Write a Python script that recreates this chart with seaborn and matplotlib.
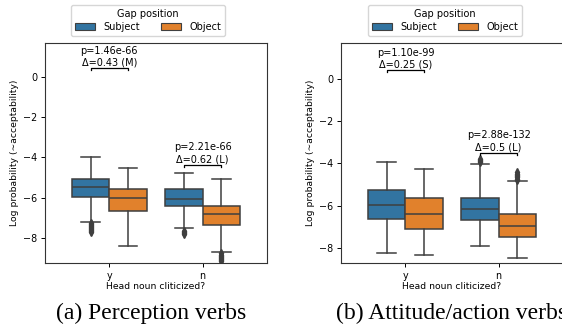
import numpy as np
import matplotlib
matplotlib.use("Agg")
import matplotlib.pyplot as plt
from matplotlib.patches import Patch
import seaborn as sns

# categories
clitic = ["y", "n"]
gap = ["Subject", "Object"]

# box summaries, order: y-Subject, y-Object, n-Subject, n-Object
# (a) perception verbs
a_med = [-5.48, -6.02, -6.04, -6.81]
a_q1 = [-5.94, -6.67, -6.40, -7.36]
a_q3 = [-5.05, -5.57, -5.57, -6.40]
a_lo = [-7.19, -8.36, -7.49, -8.66]
a_hi = [-4.00, -4.51, -4.75, -5.08]
a_fliers = [[-7.26, -7.31, -7.36, -7.41, -7.46, -7.51, -7.56, -7.61, -7.66, -7.70],
            [],
            [-7.62, -7.67, -7.72, -7.77],
            [-8.75, -8.81, -8.87, -8.93, -8.99, -9.05, -9.10, -9.15]]
a_pvals = ["p=1.46e-66", "p=2.21e-66"]
a_delta = ["Δ=0.43 (M)", "Δ=0.62 (L)"]
a_bracket = [0.42, -4.37]

# (b) attitude/action verbs
b_med = [-5.97, -6.40, -6.15, -6.95]
b_q1 = [-6.62, -7.11, -6.67, -7.48]
b_q3 = [-5.26, -5.64, -5.63, -6.39]
b_lo = [-8.21, -8.33, -7.89, -8.46]
b_hi = [-3.93, -4.25, -4.03, -4.82]
b_fliers = [[], [],
            [-3.80, -3.85, -3.90, -3.95],
            [-4.42, -4.48, -4.54, -4.60, -4.66, -4.72, -4.77]]
b_pvals = ["p=1.10e-99", "p=2.88e-132"]
b_delta = ["Δ=0.25 (S)", "Δ=0.5 (L)"]
b_bracket = [0.39, -3.50]

pal = [sns.desaturate(c, 0.75) for c in sns.color_palette("tab10", 2)]
gray = "#3f3f3f"

fig = plt.figure(figsize=(5.62, 3.29), dpi=100)
ax_a = fig.add_axes([0.0801, 0.1997, 0.395, 0.6705])
ax_b = fig.add_axes([0.6068, 0.1997, 0.395, 0.6705])


def draw(ax, med, q1, q3, lo, hi, fliers, pvals, delta, bracket, ylim):
    stats = []
    pos = []
    for i in range(4):
        stats.append(dict(med=med[i], q1=q1[i], q3=q3[i], whislo=lo[i],
                          whishi=hi[i], fliers=fliers[i]))
        pos.append(i // 2 + (-0.2 if i % 2 == 0 else 0.2))
    bp = ax.bxp(stats, positions=pos, widths=0.4, capwidths=0.2,
                patch_artist=True, manage_ticks=False,
                boxprops=dict(edgecolor=gray, linewidth=1.1),
                medianprops=dict(color=gray, linewidth=1.1),
                whiskerprops=dict(color=gray, linewidth=1.1),
                capprops=dict(color=gray, linewidth=1.1),
                flierprops=dict(marker="d", markersize=4, markerfacecolor=gray,
                                markeredgecolor=gray, linestyle="none"))
    for i, b in enumerate(bp["boxes"]):
        b.set_facecolor(pal[i % 2])
    for g in range(2):
        x1, x2 = g - 0.2, g + 0.2
        y = bracket[g]
        h = 0.09
        ax.plot([x1, x1, x2, x2], [y - h, y, y, y - h], color="black", lw=0.9)
        ax.text(g, y + 0.03, pvals[g] + "\n" + delta[g], ha="center", va="bottom",
                fontsize=7, linespacing=1.25)
    ax.set_xticks([0, 1])
    ax.set_xticklabels(clitic)
    ax.set_xlim(-0.69, 1.69)
    ax.set_ylim(*ylim)
    ax.set_yticks([0, -2, -4, -6, -8])
    ax.tick_params(labelsize=6.9, length=3, width=0.7, pad=2.5)
    for s in ax.spines.values():
        s.set_linewidth(0.8)
        s.set_color("#333333")
    ax.set_xlabel("Head noun cliticized?", fontsize=6.7, labelpad=1)
    ax.set_ylabel("Log probability (∼acceptability)", fontsize=6.7, labelpad=3)


draw(ax_a, a_med, a_q1, a_q3, a_lo, a_hi, a_fliers, a_pvals, a_delta, a_bracket, (-9.24, 1.68))
draw(ax_b, b_med, b_q1, b_q3, b_lo, b_hi, b_fliers, b_pvals, b_delta, b_bracket, (-8.71, 1.69))

handles = [Patch(facecolor=pal[i], edgecolor=gray, linewidth=0.8, label=gap[i]) for i in range(2)]
for cx in [148 / 562, 445 / 562]:
    fig.legend(handles=handles, title="Gap position", ncol=2, loc="upper center",
               bbox_to_anchor=(cx, 1.0), fontsize=7, title_fontsize=7,
               handlelength=2.1, handleheight=0.7, handletextpad=0.8,
               columnspacing=2.2, borderpad=0.4, labelspacing=0.3,
               framealpha=0.8, edgecolor="#cccccc", fancybox=True)

fig.text(151 / 562, 1 - 313 / 329, "(a) Perception verbs", ha="center", va="center",
         fontsize=17, family="Liberation Serif")
# reference crops this caption at the right edge
fig.text(452 / 562, 1 - 313 / 329, "(b) Attitude/action verbs", ha="center", va="center",
         fontsize=17, family="Liberation Serif")

fig.savefig("out.png", dpi=100)
